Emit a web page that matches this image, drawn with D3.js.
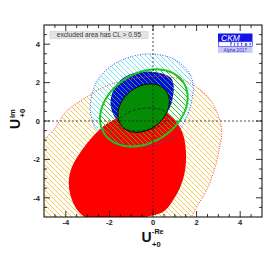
<!DOCTYPE html>
<html><head><meta charset="utf-8">
<script src="https://cdn.jsdelivr.net/npm/d3@7"></script>
<style>body{margin:0;background:#fff} svg{display:block}</style>
</head><body><svg id="c" width="276" height="253"></svg>
<script>
// ---- data (in axis units) ----
const xDomain = [-5, 5];
const yDomain = [-5, 5];
const tickLabels = [-4, -2, 0, 2, 4];
const minorStep = 0.5;
// contour boundaries (x, y)
const orangeContour = [[-5.8,-2.2],[-5.0,-1.0],[-4.55,-0.45],[-3.98,0.5],[-3.14,1.18],[-2.22,1.79],[-1.1,2.17],[0.1,2.33],[1.0,2.25],[1.79,1.92],[2.63,1.09],[3.05,0.1],[3.15,-0.6],[3.05,-1.4],[2.85,-2.4],[2.5,-3.5],[2.02,-4.46],[1.75,-5.0],[1.0,-6.0],[-0.5,-6.9],[-2.5,-7.0],[-4.5,-5.8],[-5.6,-4.0]];
const cyanContour = [[-0.06,3.49],[0.9,3.25],[1.55,2.68],[1.83,2.0],[1.8,1.2],[1.55,0.22],[0.94,-0.82],[0.0,-1.25],[-0.9,-1.34],[-1.6,-1.1],[-2.3,-0.7],[-2.68,-0.3],[-2.88,0.6],[-2.75,1.6],[-2.4,2.35],[-1.8,2.95],[-1.0,3.35]];
const blueContour = [[-0.1,2.57],[0.5,2.45],[0.85,2.2],[0.95,1.8],[0.92,1.3],[0.8,0.75],[0.5,0.3],[0.0,-0.05],[-0.7,-0.3],[-1.35,-0.2],[-1.75,0.2],[-1.95,0.9],[-1.8,1.65],[-1.35,2.25],[-0.75,2.52]];
const redContour = [[-0.4,0.85],[0.3,0.65],[0.95,0.1],[1.35,-0.6],[1.51,-1.6],[1.48,-2.5],[1.3,-3.3],[1.02,-3.95],[0.5,-4.7],[-0.29,-5.0],[-1.2,-5.3],[-2.3,-5.4],[-3.14,-5.0],[-3.55,-4.5],[-3.8,-3.8],[-3.86,-3.1],[-3.7,-2.35],[-3.25,-1.5],[-2.75,-0.8],[-2.25,-0.25],[-1.65,0.15],[-1.0,0.6]];
// elliptical contours: green ring (hatched), green filled, black dashed
const ellipseNames = ["greenRing", "greenFill", "dashed"];
const centerX = [-0.42, -0.43, -0.45];
const centerY = [0.68, 0.67, 0.08];
const semiMajor = [2.27, 1.38, 1.15];
const semiMinor = [1.71, 1.04, 0.57];
const angleDeg = [45, 52, 10];
const legendText = "excluded area has CL > 0.95";

// ---- layout ----
const svg = d3.select("#c");
const L = 44, R = 262, T = 25, B = 217;
const x = d3.scaleLinear().domain(xDomain).range([L, R]);
const y = d3.scaleLinear().domain(yDomain).range([B, T]);
const font = "'Liberation Sans', Arial, Helvetica, sans-serif";

const defs = svg.append("defs");
defs.append("clipPath").attr("id", "clip").append("rect")
  .attr("x", L).attr("y", T).attr("width", R - L).attr("height", B - T);
function hatch(id, color, bg) {
  const p = defs.append("pattern").attr("id", id).attr("patternUnits", "userSpaceOnUse")
    .attr("width", 5).attr("height", 5);
  if (bg) p.append("rect").attr("width", 5).attr("height", 5).attr("fill", bg);
  p.append("path").attr("d", "M0,0L5,5M-1,4L1,6M4,-1L6,1")
    .attr("stroke", color).attr("stroke-width", 0.9).attr("fill", "none");
}
hatch("hOr", "#f7c233", "#ffffff");
hatch("hCy", "#5fe3ee", "#ffffff");
hatch("hGr", "#2fc02f", null);

function ellipsePts(i) {
  const th = angleDeg[i] * Math.PI / 180, n = 160, pts = [];
  for (let k = 0; k < n; k++) {
    const t = 2 * Math.PI * k / n;
    const u = semiMajor[i] * Math.cos(t), v = semiMinor[i] * Math.sin(t);
    pts.push([centerX[i] + u * Math.cos(th) - v * Math.sin(th),
              centerY[i] + u * Math.sin(th) + v * Math.cos(th)]);
  }
  return pts;
}
const smooth = d3.line().x(d => x(d[0])).y(d => y(d[1])).curve(d3.curveCatmullRomClosed.alpha(0.5));
const poly = d3.line().x(d => x(d[0])).y(d => y(d[1])).curve(d3.curveLinearClosed);
const ell = n => poly(ellipsePts(ellipseNames.indexOf(n)));

const g = svg.append("g").attr("clip-path", "url(#clip)");

g.append("path").attr("d", smooth(orangeContour)).attr("fill", "url(#hOr)");
g.append("path").attr("d", smooth(cyanContour)).attr("fill", "url(#hCy)");
g.append("path").attr("d", smooth(blueContour)).attr("fill", "#0a0ae6");
g.append("path").attr("d", smooth(redContour)).attr("fill", "#ff0000");
g.append("path").attr("d", ell("greenRing")).attr("fill", "url(#hGr)");
g.append("path").attr("d", ell("greenFill")).attr("fill", "#048c04").attr("stroke", "#000").attr("stroke-width", 1);
g.append("path").attr("d", ell("dashed")).attr("fill", "none").attr("stroke", "#111").attr("stroke-width", 0.7).attr("stroke-dasharray", "3,2");
g.append("path").attr("d", smooth(orangeContour)).attr("fill", "none").attr("stroke", "#ff3b3b").attr("stroke-width", 1).attr("stroke-dasharray", "1,1.5");
g.append("path").attr("d", smooth(cyanContour)).attr("fill", "none").attr("stroke", "#3a4dff").attr("stroke-width", 1).attr("stroke-dasharray", "1,1.5");
g.append("path").attr("d", ell("greenRing")).attr("fill", "none").attr("stroke", "#1ec81e").attr("stroke-width", 2);

// axis dotted lines
g.append("line").attr("x1", x(0)).attr("x2", x(0)).attr("y1", T).attr("y2", B)
  .attr("stroke", "#222").attr("stroke-width", 0.8).attr("stroke-dasharray", "2,2");
g.append("line").attr("x1", L).attr("x2", R).attr("y1", y(0)).attr("y2", y(0))
  .attr("stroke", "#222").attr("stroke-width", 0.8).attr("stroke-dasharray", "2,2");

// frame
svg.append("rect").attr("x", L).attr("y", T).attr("width", R - L).attr("height", B - T)
  .attr("fill", "none").attr("stroke", "#000").attr("stroke-width", 1);

// ticks (inward, all sides)
const minors = d3.range(xDomain[0] + minorStep, xDomain[1], minorStep);
const tk = svg.append("g").attr("stroke", "#000").attr("stroke-width", 0.8);
minors.forEach(v => {
  const major = Math.abs(v % 2) < 1e-9;
  const len = major ? 6 : 3;
  tk.append("line").attr("x1", x(v)).attr("x2", x(v)).attr("y1", B).attr("y2", B - len);
  tk.append("line").attr("x1", x(v)).attr("x2", x(v)).attr("y1", T).attr("y2", T + len);
  tk.append("line").attr("y1", y(v)).attr("y2", y(v)).attr("x1", L).attr("x2", L + len);
  tk.append("line").attr("y1", y(v)).attr("y2", y(v)).attr("x1", R).attr("x2", R - len);
});

// tick labels
const fmt = v => (v < 0 ? "-" + Math.abs(v) : String(v));
const lab = svg.append("g").attr("font-family", font).attr("font-size", 7.5).attr("font-weight", "bold").attr("fill", "#222");
tickLabels.forEach(v => {
  lab.append("text").attr("x", x(v)).attr("y", 225.0).attr("text-anchor", "middle").text(fmt(v));
  lab.append("text").attr("x", 40).attr("y", y(v) + 2.7).attr("text-anchor", "end").text(fmt(v));
});

// axis titles
const tt = svg.append("g").attr("font-family", font).attr("font-weight", "bold").attr("fill", "#111");
tt.append("text").attr("x", 141.5).attr("y", 241.7).attr("font-size", 14).text("U");
tt.append("text").attr("x", 152).attr("y", 233.6).attr("font-size", 7.2).text("-Re");
tt.append("text").attr("x", 152).attr("y", 246.8).attr("font-size", 7.6).text("+0");

const yt = svg.append("g").attr("transform", "translate(20,129) rotate(-90)")
  .attr("font-family", font).attr("font-weight", "bold").attr("fill", "#111");
yt.append("text").attr("x", 0).attr("y", 0).attr("font-size", 14).text("U");
yt.append("text").attr("x", 11).attr("y", -5.5).attr("font-size", 7.6).text("Im");
yt.append("text").attr("x", 11.5).attr("y", 4.5).attr("font-size", 7.6).text("+0");

// legend box
svg.append("rect").attr("x", 50).attr("y", 31.5).attr("width", 98).attr("height", 7)
  .attr("fill", "#e4e4e4").attr("stroke", "#c4c4c4").attr("stroke-width", 0.5);
svg.append("text").attr("x", 99).attr("y", 37.4).attr("text-anchor", "middle")
  .attr("font-family", font).attr("font-size", 6.6).attr("fill", "#333").text(legendText);

// logo
const lg = svg.append("g").attr("font-family", font);
lg.append("rect").attr("x", 218).attr("y", 33.5).attr("width", 34.5).attr("height", 8.3).attr("fill", "#1414e6");
lg.append("text").attr("x", 221).attr("y", 40.6).attr("font-size", 8.5).attr("font-style", "italic").attr("fill", "#fff").text("CKM");
lg.append("rect").attr("x", 218.3).attr("y", 41.8).attr("width", 34).attr("height", 4.8).attr("fill", "#fff").attr("stroke", "#1414e6").attr("stroke-width", 0.6);
lg.append("text").attr("x", 230).attr("y", 46.2).attr("font-size", 5).attr("font-weight", "bold").attr("letter-spacing", 2).attr("fill", "#1414e6").text("fitter");
lg.append("rect").attr("x", 218).attr("y", 46.9).attr("width", 34.5).attr("height", 6).attr("fill", "#c8c8f4");
lg.append("text").attr("x", 235.2).attr("y", 51.8).attr("text-anchor", "middle").attr("font-size", 4.6).attr("fill", "#3434d0").text("Alpha 2017");
</script></body></html>
